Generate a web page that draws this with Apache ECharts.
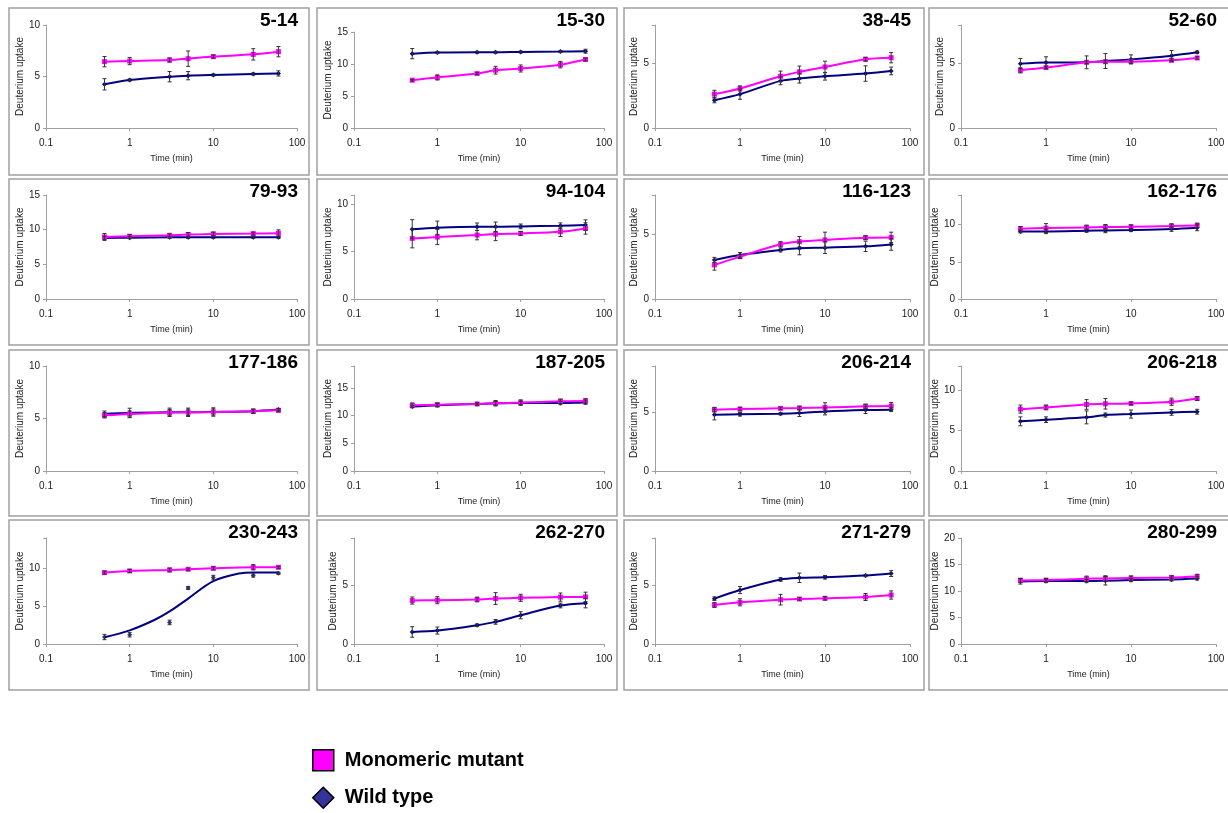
<!DOCTYPE html>
<html><head><meta charset="utf-8">
<script src="https://cdn.jsdelivr.net/npm/echarts@6/dist/echarts.min.js"></script>
<style>html,body{margin:0;padding:0;background:#fff}#c{width:1228px;height:813px}</style>
</head><body><div id="c"></div>
<script>
// ---------------- data ----------------
const times = [0.5, 1, 3, 5, 10, 30, 60];
const xTickLabels = ['0.1', '1', '10', '100'];
const peptides = ['5-14','15-30','38-45','52-60','79-93','94-104','116-123','162-176',
                  '177-186','187-205','206-214','206-218','230-243','262-270','271-279','280-299'];
const yMax = [10,15,8,8,15,11,8,14,10,19,9,13,14,9,9,20];
const seriesNames = ['Monomeric mutant', 'Wild type'];

const mutant = [
  [6.44,6.5,6.6,6.73,6.93,7.15,7.41],
  [7.47,7.9,8.5,9.03,9.3,9.9,10.7],
  [2.63,3.07,4.02,4.36,4.74,5.34,5.46],
  [4.48,4.69,5.1,5.15,5.15,5.26,5.44],
  [8.95,9.05,9.19,9.29,9.39,9.43,9.48],
  [6.41,6.55,6.76,6.87,6.94,7.11,7.46],
  [2.62,3.26,4.21,4.41,4.54,4.72,4.74],
  [9.46,9.55,9.64,9.68,9.73,9.82,9.91],
  [5.3,5.43,5.56,5.59,5.62,5.69,5.78],
  [11.9,12.0,12.13,12.26,12.38,12.62,12.68],
  [5.26,5.31,5.37,5.4,5.45,5.54,5.57],
  [7.66,7.87,8.24,8.32,8.36,8.57,8.98],
  [9.43,9.65,9.78,9.87,10.0,10.13,10.13],
  [3.69,3.72,3.78,3.86,3.92,3.98,4.0],
  [3.31,3.54,3.76,3.82,3.88,3.99,4.16],
  [12.0,12.06,12.31,12.38,12.44,12.56,12.75]
];
const mutantErr = [
  [0.5,0.35,0.2,0.75,0.15,0.55,0.5],
  [0.15,0.4,0.15,0.6,0.55,0.5,0.2],
  [0.3,0.2,0.4,0.45,0.45,0.15,0.4],
  [0.2,0.1,0.1,0.1,0.1,0.1,0.1],
  [0.5,0.25,0.2,0.3,0.25,0.2,0.5],
  [1.0,0.8,0.5,0.7,0.2,0.5,0.6],
  [0.4,0.15,0.2,0.4,0.6,0.15,0.4],
  [0.3,0.6,0.3,0.35,0.25,0.3,0.3],
  [0.25,0.3,0.3,0.3,0.3,0.2,0.15],
  [0.4,0.3,0.25,0.5,0.5,0.4,0.4],
  [0.2,0.15,0.1,0.15,0.4,0.2,0.3],
  [0.5,0.3,0.6,0.65,0.15,0.45,0.25],
  [0.2,0.2,0.25,0.15,0.2,0.35,0.15],
  [0.3,0.3,0.2,0.5,0.3,0.35,0.4],
  [0.2,0.3,0.45,0.1,0.15,0.3,0.35],
  [0.4,0.3,0.5,0.5,0.4,0.3,0.4]
];
const wild = [
  [4.24,4.66,4.98,5.08,5.15,5.24,5.3],
  [11.62,11.78,11.83,11.83,11.88,11.94,12.0],
  [2.16,2.63,3.66,3.84,4.02,4.23,4.43],
  [5.0,5.08,5.1,5.2,5.33,5.62,5.88],
  [8.8,8.85,8.9,8.9,8.9,8.9,8.9],
  [7.39,7.54,7.64,7.64,7.68,7.75,7.82],
  [3.0,3.38,3.77,3.9,3.95,4.05,4.2],
  [9.1,9.1,9.19,9.23,9.28,9.41,9.59],
  [5.46,5.53,5.59,5.59,5.62,5.69,5.85],
  [11.65,11.9,12.13,12.26,12.3,12.3,12.38],
  [4.83,4.86,4.91,4.97,5.11,5.23,5.26],
  [6.15,6.35,6.64,6.93,7.05,7.25,7.34],
  [0.92,1.23,2.85,7.4,8.77,9.04,9.34],
  [1.02,1.14,1.6,1.88,2.44,3.27,3.47],
  [3.85,4.58,5.48,5.62,5.67,5.81,5.98],
  [11.81,11.88,11.88,11.94,12.06,12.19,12.38]
];
const wildErr = [
  [0.55,0.1,0.5,0.4,0.1,0.1,0.25],
  [0.8,0.15,0.15,0.15,0.15,0.15,0.3],
  [0.2,0.4,0.3,0.35,0.3,0.6,0.3],
  [0.4,0.45,0.5,0.58,0.35,0.4,0.1],
  [0.2,0.15,0.15,0.15,0.15,0.15,0.15],
  [1.0,0.7,0.4,0.5,0.25,0.3,0.55],
  [0.2,0.2,0.15,0.5,0.45,0.4,0.45],
  [0.2,0.3,0.2,0.3,0.2,0.3,0.4],
  [0.25,0.45,0.4,0.4,0.4,0.2,0.1],
  [0.2,0.3,0.2,0.3,0.3,0.3,0.3],
  [0.45,0.15,0.1,0.3,0.3,0.3,0.15],
  [0.55,0.35,0.8,0.25,0.5,0.35,0.3],
  [0.35,0.3,0.3,0.2,0.3,0.2,0.15],
  [0.45,0.3,0.1,0.2,0.3,0.2,0.4],
  [0.15,0.3,0.15,0.4,0.15,0.1,0.25],
  [0.5,0.3,0.3,0.8,0.3,0.3,0.3]
];
// fitted wild-type curve drawn in panel 230-243
const fitPanel = 12;
const fitTimes = [0.5, 1, 2, 3, 5, 10, 20, 30, 60];
const fitValues = [0.9, 1.8, 3.2, 4.3, 6.0, 8.3, 9.3, 9.45, 9.43];

// ---------------- layout ----------------
const FONT = "'Liberation Sans', Arial, sans-serif";
const colLeft = [9, 317, 624, 929];
const panelW = 300;
const rowTop = [8, 179, 350, 520];
const rowH = [167, 166, 166, 170];
const plotL = [37, 37, 31, 32];
const plotR = [288, 287, 286, 287];
const plotT = [17, 16, 16, 18];
const plotB = [120, 120, 121, 124];
const MAG = '#ff00ff', NAVY = '#000080';

const grids = [], xAxes = [], yAxes = [], series = [], graphics = [];

function errItem(params, api) {
  const x = api.value(0), lo = api.value(1), hi = api.value(2);
  const p1 = api.coord([x, lo]), p2 = api.coord([x, hi]);
  const w = 2;
  const st = { stroke: '#333', lineWidth: 1 };
  return { type: 'group', children: [
    { type: 'line', shape: { x1: p1[0], y1: p1[1], x2: p2[0], y2: p2[1] }, style: st },
    { type: 'line', shape: { x1: p1[0] - w, y1: p1[1], x2: p1[0] + w, y2: p1[1] }, style: st },
    { type: 'line', shape: { x1: p2[0] - w, y1: p2[1], x2: p2[0] + w, y2: p2[1] }, style: st }
  ]};
}

peptides.forEach((pep, i) => {
  const r = Math.floor(i / 4), c = i % 4;
  const px = colLeft[c], py = rowTop[r];
  let top = py + plotT[r];
  if (i === 1) top += 7;
  const bottomY = py + plotB[r];
  grids.push({ left: px + plotL[c], top: top, width: plotR[c] - plotL[c], height: bottomY - top });
  xAxes.push({
    type: 'log', logBase: 10, min: 0.1, max: 100, gridIndex: i,
    name: 'Time (min)', nameLocation: 'middle', nameGap: 26,
    nameTextStyle: { fontFamily: FONT, fontSize: 9, color: '#222' },
    axisLine: { lineStyle: { color: '#a0a0a0', width: 1 } },
    axisTick: { show: true, length: 3, lineStyle: { color: '#a0a0a0' } },
    axisLabel: { fontFamily: FONT, fontSize: 10, color: '#222', margin: 10,
      formatter: v => { const k = Math.round(Math.log10(v)) + 1; return xTickLabels[k] || ''; } },
    splitLine: { show: false }, minorTick: { show: false }
  });
  yAxes.push({
    type: 'value', min: 0, max: yMax[i], interval: 5, gridIndex: i,
    name: 'Deuterium uptake', nameLocation: 'middle', nameGap: 16, nameRotate: 90,
    nameTextStyle: { fontFamily: FONT, fontSize: 10, color: '#222' },
    axisLine: { show: true, lineStyle: { color: '#a0a0a0', width: 1 } },
    axisTick: { show: true, length: 3, lineStyle: { color: '#a0a0a0' } },
    axisLabel: { fontFamily: FONT, fontSize: 10, color: '#222', margin: 6,
      formatter: v => (Math.abs(v % 5) < 1e-9 ? String(v) : '') },
    splitLine: { show: false }
  });
  const wData = times.map((t, j) => [t, wild[i][j]]);
  const mData = times.map((t, j) => [t, mutant[i][j]]);
  if (i === fitPanel) {
    series.push({ type: 'line', name: seriesNames[1], xAxisIndex: i, yAxisIndex: i,
      data: fitTimes.map((t, j) => [t, fitValues[j]]), smooth: 0.35, showSymbol: false,
      lineStyle: { color: NAVY, width: 2 }, itemStyle: { color: NAVY }, z: 3, silent: true });
    series.push({ type: 'scatter', name: seriesNames[1], xAxisIndex: i, yAxisIndex: i,
      data: wData, symbol: 'diamond', symbolSize: 5, itemStyle: { color: NAVY }, z: 3 });
  } else {
    series.push({ type: 'line', name: seriesNames[1], xAxisIndex: i, yAxisIndex: i,
      data: wData, smooth: 0.3, symbol: 'diamond', symbolSize: 5,
      lineStyle: { color: NAVY, width: 2 }, itemStyle: { color: NAVY }, z: 3 });
  }
  series.push({ type: 'line', name: seriesNames[0], xAxisIndex: i, yAxisIndex: i,
    data: mData, smooth: 0.3, symbol: 'rect', symbolSize: 5,
    lineStyle: { color: MAG, width: 2 }, itemStyle: { color: MAG }, z: 4 });
  series.push({ type: 'custom', name: 'err-w', xAxisIndex: i, yAxisIndex: i, z: 5,
    renderItem: errItem, data: times.map((t, j) => [t, wild[i][j] - wildErr[i][j], wild[i][j] + wildErr[i][j]]) });
  series.push({ type: 'custom', name: 'err-m', xAxisIndex: i, yAxisIndex: i, z: 5,
    renderItem: errItem, data: times.map((t, j) => [t, mutant[i][j] - mutantErr[i][j], mutant[i][j] + mutantErr[i][j]]) });

  graphics.push({ type: 'rect', shape: { x: px, y: py, width: panelW, height: rowH[r] },
    style: { fill: null, stroke: '#a0a0a0', lineWidth: 1.5 }, z: 1 });
  graphics.push({ type: 'text', x: px + plotR[c] + 1, y: py + 13,
    style: { text: pep, font: 'bold 19px ' + FONT, fill: '#000', textAlign: 'right', textVerticalAlign: 'middle' }, z: 10 });
});

const chart = echarts.init(document.getElementById('c'), null, { renderer: 'canvas' });
chart.setOption({
  animation: false,
  backgroundColor: '#fff',
  grid: grids, xAxis: xAxes, yAxis: yAxes, series: series,
  graphic: graphics,
  legend: {
    orient: 'vertical', left: 312, top: 749, bottom: 0, padding: 0,
    itemWidth: 21, itemHeight: 21, itemGap: 15,
    selectedMode: false,
    textStyle: { fontFamily: FONT, fontSize: 20, fontWeight: 'bold', color: '#000', padding: [0, 0, 0, 6], lineHeight: 22 },
    data: [
      { name: seriesNames[0], icon: 'rect', itemStyle: { color: MAG, borderColor: '#000', borderWidth: 1.5 } },
      { name: seriesNames[1], icon: 'diamond', itemStyle: { color: '#333399', borderColor: '#000', borderWidth: 1.5 } }
    ]
  }
});
</script></body></html>
